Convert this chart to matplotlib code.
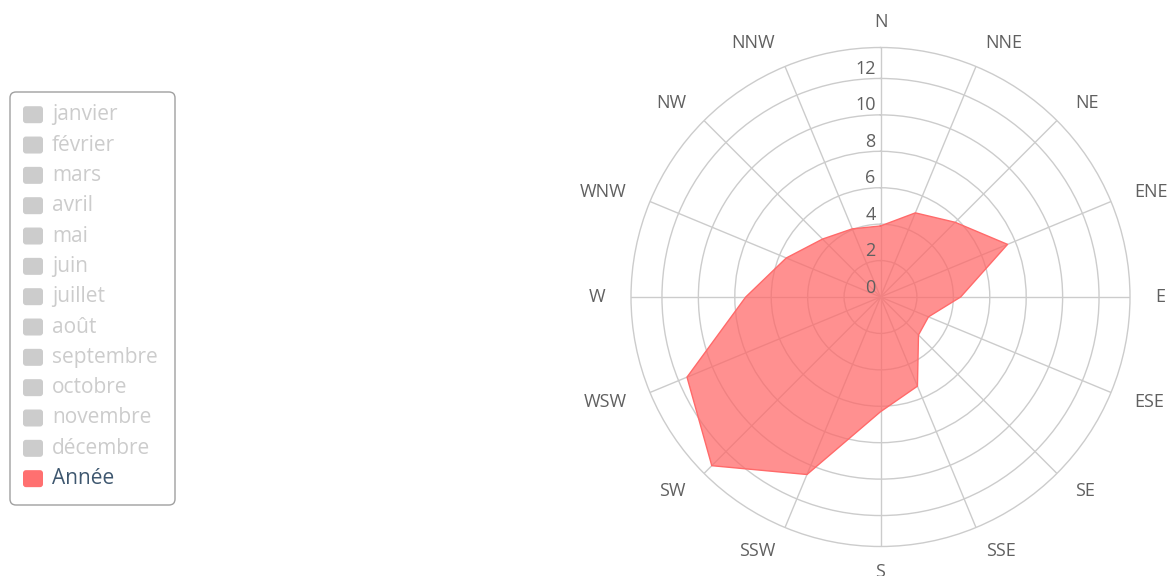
import matplotlib
matplotlib.use("Agg")
import matplotlib.pyplot as plt
import numpy as np
from matplotlib.patches import FancyBboxPatch

plt.rcParams['font.family'] = ['Open Sans', 'DejaVu Sans']

# data
directions = ['N', 'NNE', 'NE', 'ENE', 'E', 'ESE', 'SE', 'SSE',
              'S', 'SSW', 'SW', 'WSW', 'W', 'WNW', 'NW', 'NNW']
annee = [3.9, 5.0, 5.8, 7.55, 4.4, 2.85, 2.95, 5.3,
         6.3, 10.55, 13.1, 11.5, 7.4, 5.6, 4.5, 4.05]
legend_labels = ['janvier', 'février', 'mars', 'avril', 'mai', 'juin', 'juillet',
                 'août', 'septembre', 'octobre', 'novembre', 'décembre', 'Année']
radial_ticks = [0, 2, 4, 6, 8, 10, 12]
rmax = 13.7

W, H = 1174, 576
fig = plt.figure(figsize=(W / 100, H / 100), dpi=100)

# legend drawn in pixel coordinates
leg = fig.add_axes([0, 0, 1, 1])
leg.set_xlim(0, W)
leg.set_ylim(H, 0)
leg.axis('off')
leg.add_patch(FancyBboxPatch((10, 92), 165, 413, boxstyle='round,pad=0,rounding_size=6',
                             fc='white', ec='#a0a0a0', lw=1))
for i, name in enumerate(legend_labels):
    yc = 114.7 + i * 30.33
    active = name == 'Année'
    leg.add_patch(FancyBboxPatch((23, yc - 8.5), 20, 17, boxstyle='round,pad=0,rounding_size=3',
                                 fc='#ff7070' if active else '#cccccc', ec='none'))
    leg.text(52, yc, name, ha='left', va='center', fontsize=15,
             color='#3e576f' if active else '#cccccc')

# polar chart
cx, cy, R = 880.5, 297, 249.5
ax = fig.add_axes([(cx - R) / W, (H - cy - R) / H, 2 * R / W, 2 * R / H], projection='polar')
ax.set_theta_zero_location('N')
ax.set_theta_direction(-1)
angles = np.deg2rad(np.arange(len(directions)) * 22.5)
ax.set_ylim(0, rmax)
ax.set_xticks(angles)
ax.set_xticklabels([])
ax.set_yticks(radial_ticks[1:])
ax.set_yticklabels([])
ax.grid(True, color='#cccccc', lw=1)
ax.spines['polar'].set_color('#cccccc')
ax.spines['polar'].set_linewidth(1)
ax.tick_params(length=0)

th = np.append(angles, angles[0])
vals = np.append(annee, annee[0])
ax.fill(th, vals, facecolor='#ff6666', alpha=0.72, edgecolor='none', zorder=3)
ax.plot(th, vals, color='#ff6a6a', lw=1, zorder=4)

r_lab = rmax * 275 / R
for a, name in zip(np.arange(len(directions)) * 22.5, directions):
    if a in (0, 180):
        ha = 'center'
    elif a < 180:
        ha = 'left'
    else:
        ha = 'right'
    ax.text(np.deg2rad(a), r_lab, name, ha=ha, va='center', fontsize=13,
            color='#606060', clip_on=False)

for v in radial_ticks:
    ax.annotate(str(v), xy=(0, v), xytext=(-5, 9.5), textcoords='offset pixels',
                ha='right', va='center', fontsize=13, color='#606060', zorder=5)

fig.savefig('out.png', dpi=100)
